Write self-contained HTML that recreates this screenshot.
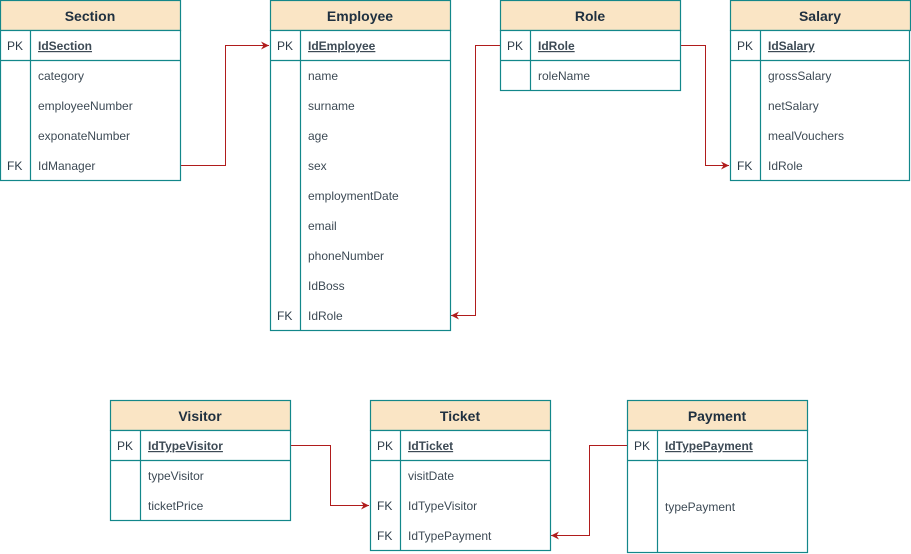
<!DOCTYPE html>
<html><head><meta charset="utf-8"><style>
html,body{margin:0;padding:0;background:#fff;width:911px;height:554px;overflow:hidden}
text{font-family:"Liberation Sans",sans-serif;font-size:12px;fill:#3d4a55}
.h{font-weight:bold;font-size:14px;fill:#1f3040}
.k{fill:#2b3a47}
.u{font-weight:bold;text-decoration:underline;fill:#3d4a55}
</style></head><body>
<svg width="911" height="554" xmlns="http://www.w3.org/2000/svg">
<defs><marker id="a" markerWidth="10" markerHeight="10" refX="8" refY="5" orient="auto" markerUnits="userSpaceOnUse"><path d="M0,1 L8,5 L0,9 L2.5,5 Z" fill="#b01c1c"/></marker></defs>
<g fill="none" stroke="#b01c1c" stroke-width="1">
<polyline points="180.5,165.5 225.5,165.5 225.5,45.5 269,45.5" marker-end="url(#a)"/>
<polyline points="500.5,45.5 475.5,45.5 475.5,315.5 451,315.5" marker-end="url(#a)"/>
<polyline points="680.5,45.5 705.5,45.5 705.5,165.5 729,165.5" marker-end="url(#a)"/>
<polyline points="290.5,445.5 330.5,445.5 330.5,505.5 369,505.5" marker-end="url(#a)"/>
<polyline points="627.5,445.5 589.5,445.5 589.5,535.5 551,535.5" marker-end="url(#a)"/>
</g>
<g stroke="#13878a" stroke-width="1.2">
<rect x="0.5" y="0.5" width="180" height="30" fill="#fae5c5"/>
<rect x="0.5" y="30.5" width="180" height="150" fill="#fff"/>
<line x1="0.5" y1="60.5" x2="180.5" y2="60.5"/><line x1="30.5" y1="30.5" x2="30.5" y2="180.5"/>
<rect x="270.5" y="0.5" width="180" height="30" fill="#fae5c5"/>
<rect x="270.5" y="30.5" width="180" height="300" fill="#fff"/>
<line x1="270.5" y1="60.5" x2="450.5" y2="60.5"/><line x1="300.5" y1="30.5" x2="300.5" y2="330.5"/>
<rect x="500.5" y="0.5" width="180" height="30" fill="#fae5c5"/>
<rect x="500.5" y="30.5" width="180" height="60" fill="#fff"/>
<line x1="500.5" y1="60.5" x2="680.5" y2="60.5"/><line x1="530.5" y1="30.5" x2="530.5" y2="90.5"/>
<rect x="730.5" y="0.5" width="180" height="30" fill="#fae5c5"/>
<rect x="730.5" y="30.5" width="179" height="150" fill="#fff"/>
<line x1="730.5" y1="60.5" x2="909.5" y2="60.5"/><line x1="760.5" y1="30.5" x2="760.5" y2="180.5"/>
<rect x="110.5" y="400.5" width="180" height="30" fill="#fae5c5"/>
<rect x="110.5" y="430.5" width="180" height="90" fill="#fff"/>
<line x1="110.5" y1="460.5" x2="290.5" y2="460.5"/><line x1="140.5" y1="430.5" x2="140.5" y2="520.5"/>
<rect x="370.5" y="400.5" width="180" height="30" fill="#fae5c5"/>
<rect x="370.5" y="430.5" width="180" height="120" fill="#fff"/>
<line x1="370.5" y1="460.5" x2="550.5" y2="460.5"/><line x1="400.5" y1="430.5" x2="400.5" y2="550.5"/>
<rect x="627.5" y="400.5" width="180" height="30" fill="#fae5c5"/>
<rect x="627.5" y="430.5" width="180" height="122" fill="#fff"/>
<line x1="627.5" y1="460.5" x2="807.5" y2="460.5"/><line x1="657.5" y1="430.5" x2="657.5" y2="552.5"/>
</g>
<g text-anchor="middle">
<text class="h" x="90" y="21">Section</text>
<text class="h" x="360" y="21">Employee</text>
<text class="h" x="590" y="21">Role</text>
<text class="h" x="820" y="21">Salary</text>
<text class="h" x="200" y="421">Visitor</text>
<text class="h" x="460" y="421">Ticket</text>
<text class="h" x="717" y="421">Payment</text>
</g>
<g>
<text class="k" x="7" y="50">PK</text><text class="u" x="38" y="50">IdSection</text>
<text x="38" y="80">category</text><text x="38" y="110">employeeNumber</text><text x="38" y="140">exponateNumber</text>
<text class="k" x="7" y="170">FK</text><text x="38" y="170">IdManager</text>
<text class="k" x="277" y="50">PK</text><text class="u" x="308" y="50">IdEmployee</text>
<text x="308" y="80">name</text><text x="308" y="110">surname</text><text x="308" y="140">age</text>
<text x="308" y="170">sex</text><text x="308" y="200">employmentDate</text><text x="308" y="230">email</text>
<text x="308" y="260">phoneNumber</text><text x="308" y="290">IdBoss</text>
<text class="k" x="277" y="320">FK</text><text x="308" y="320">IdRole</text>
<text class="k" x="507" y="50">PK</text><text class="u" x="538" y="50">IdRole</text>
<text x="538" y="80">roleName</text>
<text class="k" x="737" y="50">PK</text><text class="u" x="768" y="50">IdSalary</text>
<text x="768" y="80">grossSalary</text><text x="768" y="110">netSalary</text><text x="768" y="140">mealVouchers</text>
<text class="k" x="737" y="170">FK</text><text x="768" y="170">IdRole</text>
<text class="k" x="117" y="450">PK</text><text class="u" x="148" y="450">IdTypeVisitor</text>
<text x="148" y="480">typeVisitor</text><text x="148" y="510">ticketPrice</text>
<text class="k" x="377" y="450">PK</text><text class="u" x="408" y="450">IdTicket</text>
<text x="408" y="480">visitDate</text>
<text class="k" x="377" y="510">FK</text><text x="408" y="510">IdTypeVisitor</text>
<text class="k" x="377" y="540">FK</text><text x="408" y="540">IdTypePayment</text>
<text class="k" x="634" y="450">PK</text><text class="u" x="665" y="450">IdTypePayment</text>
<text x="665" y="511">typePayment</text>
</g>
</svg>
</body></html>
